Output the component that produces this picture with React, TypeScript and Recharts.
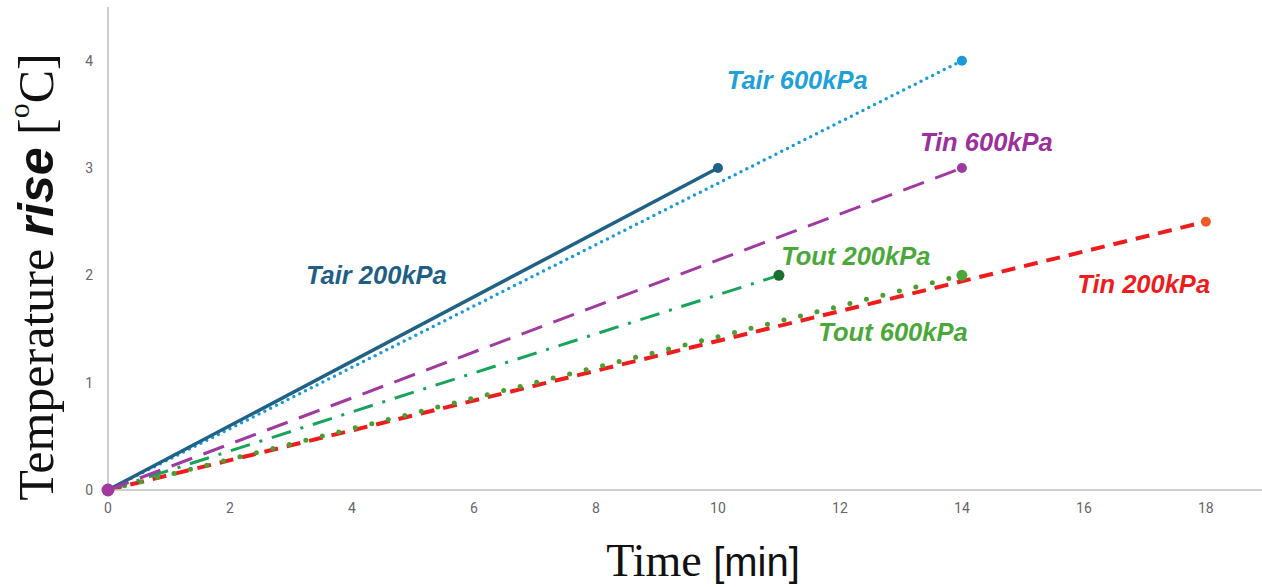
import { LineChart, Line, XAxis, YAxis, ReferenceDot } from 'recharts';

// ============================================
// DATA
// ============================================
const xTicks = [0, 2, 4, 6, 8, 10, 12, 14, 16, 18];
const yTicks = [0, 1, 2, 3, 4];

const tair200 = [{ x: 0, y: 0 }, { x: 10, y: 3 }];
const tair600 = [{ x: 0, y: 0 }, { x: 14, y: 4 }];
const tin600 = [{ x: 0, y: 0 }, { x: 14, y: 3 }];
const tout200 = [{ x: 0, y: 0 }, { x: 11, y: 2 }];
const tout600 = [{ x: 0, y: 0 }, { x: 14, y: 2 }];
const tin200 = [{ x: 0, y: 0 }, { x: 18, y: 2.5 }];

// label positions in data units
const seriesLabels = [
    { text: 'Tair 200kPa', x: 4.4, y: 2.0, color: '#1f5f85' },
    { text: 'Tair 600kPa', x: 11.3, y: 3.82, color: '#1fa0d8' },
    { text: 'Tin 600kPa', x: 14.4, y: 3.24, color: '#9b2f9b' },
    { text: 'Tout 200kPa', x: 12.26, y: 2.18, color: '#4aa83a' },
    { text: 'Tout 600kPa', x: 12.87, y: 1.47, color: '#4aa83a' },
    { text: 'Tin 200kPa', x: 16.98, y: 1.92, color: '#ee1c1c' },
];

const W = 1262;
const H = 587;

// endpoint dot only (optionally the first one too)
const endDot = (color: string, r: number, last: number, withStart = false, startR = r) =>
    (props: any) => {
        const { cx, cy, index } = props;
        if (index === last || (withStart && index === 0)) {
            return <circle key={`d-${index}`} cx={cx} cy={cy} r={index === 0 ? startR : r} fill={color} stroke="none" />;
        }
        return <g key={`d-${index}`} />;
    };

const YLabel = () => (
    <text
        x={36}
        y={277}
        transform="rotate(-90, 36, 277)"
        textAnchor="middle"
        dominantBaseline="central"
        fontSize={50}
        fill="#111"
    >
        <tspan fontFamily="'Liberation Serif', 'DejaVu Serif', serif">Temperature </tspan>
        <tspan fontFamily="'Liberation Sans', Arial, sans-serif" fontWeight="bold" fontStyle="italic">rise</tspan>
        <tspan fontFamily="'Liberation Serif', serif"> [</tspan>
        <tspan fontFamily="'Liberation Serif', serif" fontSize={30} dy={-18}>o</tspan>
        <tspan fontFamily="'Liberation Serif', serif" dy={18}>C]</tspan>
    </text>
);

const XLabel = () => (
    <text x={703} y={576} textAnchor="middle" fontSize={46} fill="#111">
        <tspan fontFamily="'Liberation Serif', serif">Time </tspan>
        <tspan fontFamily="'Liberation Sans Narrow', 'Liberation Sans', sans-serif" fontSize={40}>[min]</tspan>
    </text>
);

export default function App() {
    const tick = { fill: '#666', fontSize: 14, fontFamily: 'Roboto, sans-serif' };
    return (
        <div style={{ width: W, height: H, background: '#fff' }}>
            <style>{`body{margin:0}`}</style>
            <LineChart width={W} height={H} margin={{ top: 7, right: 0, left: 78, bottom: 0 }}>
                <XAxis
                    type="number"
                    dataKey="x"
                    domain={[0, 18.92]}
                    ticks={xTicks}
                    height={97}
                    stroke="#bfbfbf"
                    strokeWidth={1.5}
                    tickLine={false}
                    tickSize={0}
                    tickMargin={13}
                    tick={tick}
                    label={<XLabel />}
                />
                <YAxis
                    type="number"
                    dataKey="y"
                    domain={[0, 4.5]}
                    ticks={yTicks}
                    width={30}
                    stroke="#bfbfbf"
                    strokeWidth={1.5}
                    tickLine={false}
                    tickSize={0}
                    tickMargin={15}
                    tick={tick}
                    label={<YLabel />}
                />
                <Line
                    data={tin200}
                    dataKey="y"
                    stroke="#ee1c1c"
                    strokeWidth={4}
                    strokeDasharray="14 9"
                    dot={endDot('#f05a28', 5, tin200.length - 1)}
                    activeDot={false}
                    isAnimationActive={false}
                />
                <Line
                    data={tout600}
                    dataKey="y"
                    stroke="#4a9e32"
                    strokeWidth={5}
                    strokeLinecap="round"
                    strokeDasharray="0 17"
                    dot={endDot('#4aa83a', 5.5, tout600.length - 1)}
                    activeDot={false}
                    isAnimationActive={false}
                />
                <Line
                    data={tout200}
                    dataKey="y"
                    stroke="#17a35a"
                    strokeWidth={3}
                    strokeDasharray="20 10 3 10"
                    dot={endDot('#1a6e2e', 5.5, tout200.length - 1)}
                    activeDot={false}
                    isAnimationActive={false}
                />
                <Line
                    data={tair600}
                    dataKey="y"
                    stroke="#1a9ad6"
                    strokeWidth={3.5}
                    strokeLinecap="round"
                    strokeDasharray="0 6.5"
                    dot={endDot('#1a9ad6', 5, tair600.length - 1)}
                    activeDot={false}
                    isAnimationActive={false}
                />
                <Line
                    data={tair200}
                    dataKey="y"
                    stroke="#1f6286"
                    strokeWidth={3.5}
                    dot={endDot('#1f6286', 5, tair200.length - 1)}
                    activeDot={false}
                    isAnimationActive={false}
                />
                <Line
                    data={tin600}
                    dataKey="y"
                    stroke="#a03aa0"
                    strokeWidth={3}
                    strokeDasharray="22 12"
                    dot={endDot('#a03aa0', 5, tin600.length - 1, true, 6.5)}
                    activeDot={false}
                    isAnimationActive={false}
                />
                {seriesLabels.map((l) => (
                    <ReferenceDot
                        key={l.text}
                        x={l.x}
                        y={l.y}
                        r={0}
                        shape={(p: any) => (
                            <text
                                x={p.cx}
                                y={p.cy}
                                textAnchor="middle"
                                dominantBaseline="central"
                                fontFamily="'Liberation Sans', Arial, sans-serif"
                                fontWeight="bold"
                                fontStyle="italic"
                                fontSize={25.5}
                                fill={l.color}
                            >
                                {l.text}
                            </text>
                        )}
                    />
                ))}
            </LineChart>
        </div>
    );
}
